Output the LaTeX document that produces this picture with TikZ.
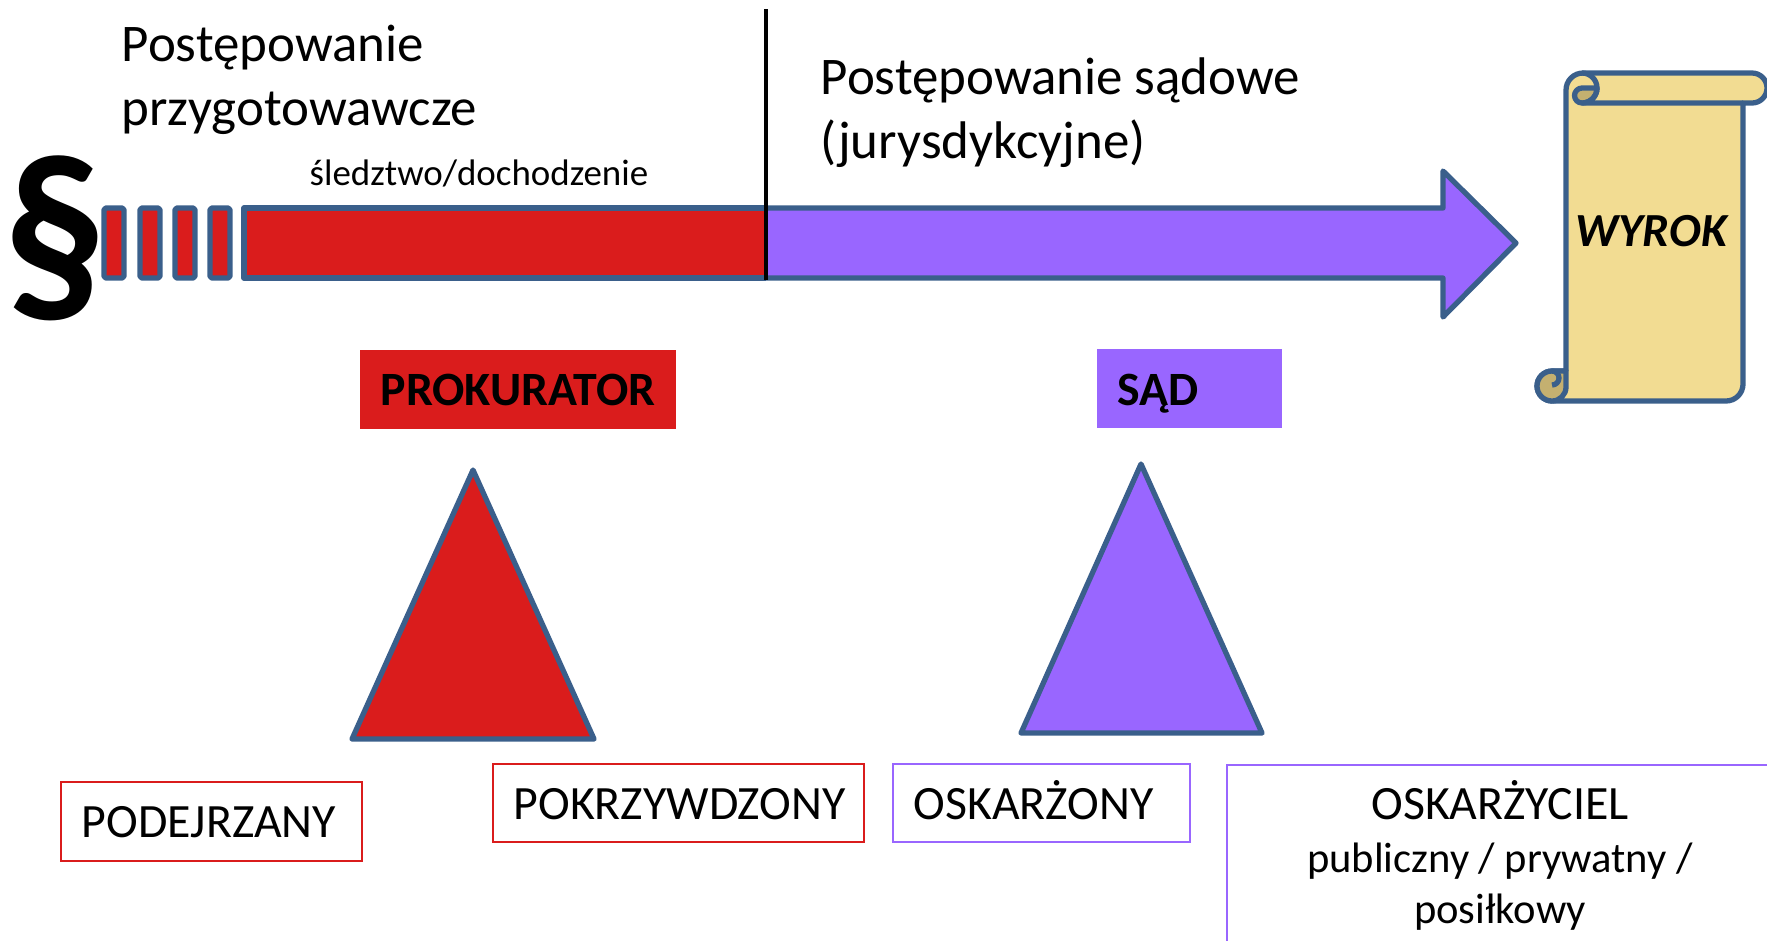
\documentclass[tikz,border=0pt]{standalone}
\usepackage{fontspec}
\setmainfont{Carlito}
\definecolor{czerwony}{HTML}{DA1C1C}
\definecolor{fiolet}{HTML}{9966FF}
\definecolor{obrys}{HTML}{3A5F8B}
\definecolor{papier}{HTML}{F2DC92}
\definecolor{zwoj}{HTML}{C4B070}
\tikzset{
  ksztalt/.style={draw=obrys,line width=1.5pt,line join=round},
  tytul/.style={anchor=base west,inner sep=0pt,font=\fontsize{15.05}{18}\selectfont},
  rola/.style={anchor=base west,inner sep=0pt,font=\fontsize{13.6}{16}\selectfont},
  etykieta/.style={anchor=base west,inner sep=0pt,font=\bfseries\fontsize{13.6}{16}\selectfont},
  opis/.style={anchor=base,inner sep=0pt,font=\fontsize{12.1}{14}\selectfont}
}
\begin{document}
\begin{tikzpicture}[x=0.01cm,y=-0.01cm]
\useasboundingbox(0,0)rectangle(1767,941);
% paragraph sign
\node(para)at(55,238)[inner sep=0pt,xscale=0.93,font=\bfseries\fontsize{63}{63}\selectfont]{§};
% bars and arrow
\foreach \x in {104,140,175,210}
  \draw[ksztalt,fill=czerwony,rounded corners=0.5pt](\x,208)rectangle(\x+20,278);
\draw[ksztalt,fill=fiolet](766,208)--(1443,208)--(1443,171)--(1516,243)--(1443,317)--(1443,278)--(766,278);
\draw[ksztalt,fill=czerwony](766,208)--(244,208)--(244,278)--(766,278);
\coordinate(G)at(766,9);
\coordinate(H)at(766,280);
\draw[line width=1pt](G)--(H);
% headings
\node(przyg1)at(121,61)[tytul]{Postępowanie};
\node(przyg2)at(121,125)[tytul]{przygotowawcze};
\node(sad1)at(820,94)[tytul]{Postępowanie sądowe};
\node(sad2)at(820,158)[tytul]{(jurysdykcyjne)};
\node(sledztwo)at(309,185)[anchor=base west,inner sep=0pt,font=\fontsize{10.5}{12}\selectfont]{śledztwo/dochodzenie};
% authorities
\fill[czerwony](360,350)rectangle(676,429);
\fill[fiolet](1097,349)rectangle(1282,428);
\node(prok)at(380,405)[etykieta]{PROKURATOR};
\node(sad)at(1117,405)[etykieta]{SĄD};
% triangles
\draw[ksztalt,fill=czerwony](473,470)--(352,739)--(594,739)--cycle;
\draw[ksztalt,fill=fiolet](1141,464)--(1021,733)--(1262,733)--cycle;
% parties
\draw[czerwony,line width=0.5pt](61,782)rectangle(362,861);
\draw[czerwony,line width=0.5pt](493,764)rectangle(864,842);
\draw[fiolet,line width=0.5pt](893,764)rectangle(1190,842);
\draw[fiolet,line width=0.5pt](1767,765)--(1227,765)--(1227,941);
\node(podej)at(81,837)[rola]{PODEJRZANY};
\node(pokrz)at(513,819)[rola]{POKRZYWDZONY};
\node(oskarzony)at(913,819)[rola]{OSKARŻONY};
\node(oskarz)at(1500,819)[rola,anchor=base]{OSKARŻYCIEL};
\node(rodzaj1)at(1500,872)[opis]{publiczny / prywatny /};
\node(rodzaj2)at(1500,923)[opis]{posiłkowy};
% scroll
\draw[ksztalt,fill=papier](1566,371)--(1566,90)arc[start angle=180,end angle=270,x radius=17,y radius=17]
  --(1752,73)arc[start angle=270,end angle=450,x radius=15,y radius=15]--(1743,103)--(1743,384)
  arc[start angle=0,end angle=90,x radius=17,y radius=17]--(1552,401)
  arc[start angle=90,end angle=270,x radius=15,y radius=15]--(1566,371);
\draw[ksztalt,fill=zwoj](1582,103)arc[start angle=90,end angle=270,x radius=7.5,y radius=7.5]--(1597,88)
  arc[start angle=0,end angle=90,x radius=15,y radius=15];
\draw[ksztalt,fill=zwoj](1552,401)arc[start angle=90,end angle=270,x radius=15,y radius=15]--(1566,371)--(1566,387)
  arc[start angle=0,end angle=90,x radius=14,y radius=14];
\draw[ksztalt](1552,371)arc[start angle=270,end angle=450,x radius=7,y radius=7];
\draw[ksztalt](1582,73)arc[start angle=270,end angle=450,x radius=15,y radius=15]--(1743,103);
\node(wyrok)at(1651,246)[anchor=base,inner sep=0pt,font=\bfseries\itshape\fontsize{13.5}{16}\selectfont]{WYROK};
\end{tikzpicture}
\end{document}
